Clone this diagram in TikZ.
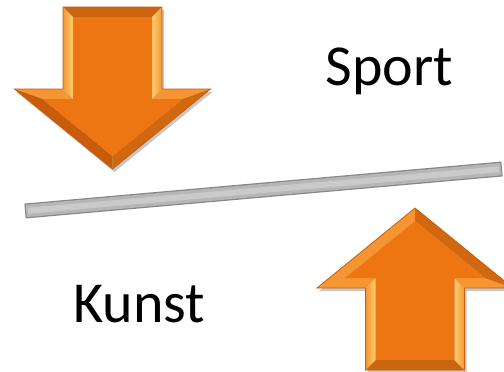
\documentclass[tikz,border=0pt]{standalone}
\usepackage{fontspec}
\setmainfont{Carlito}
\usepackage{xcolor}
\usetikzlibrary{calc}
\definecolor{arrowface}{RGB}{238,118,18}
\definecolor{arrowdark}{RGB}{200,92,10}
\definecolor{arrowlight}{RGB}{246,150,50}
\definecolor{arrowhigh}{RGB}{255,205,110}
\definecolor{bardark}{RGB}{135,135,135}
\definecolor{barmid}{RGB}{182,182,182}
\definecolor{barlight}{RGB}{202,202,202}
\tikzset{
    label text/.style={font=\fontsize{58bp}{62bp}\selectfont, anchor=base, inner sep=0pt},
    facet/.style={draw=none}
}
% beveled block arrow pointing down, top edge centred at the origin
% #1 shadow offset, #2 left diagonal facet, #3 right diagonal facet
\newcommand{\bevelarrow}[3]{%
  % shadow
  \fill[black, opacity=0.22, shift={(2,#1)}]
    (-49.5,0) -- (49.5,0) -- (49.5,82) -- (98,82) -- (0,162) -- (-98,82) -- (-49.5,82) -- cycle;
  \coordinate (A) at (-49.5,0);  \coordinate (B) at (49.5,0);
  \coordinate (C) at (49.5,82);  \coordinate (D) at (98,82);
  \coordinate (E) at (0,162);    \coordinate (F) at (-98,82);
  \coordinate (G) at (-49.5,82);
  \coordinate (a) at (-39.5,10); \coordinate (b) at (39.5,10);
  \coordinate (c) at (39.5,92);  \coordinate (d) at (70,92);
  \coordinate (e) at (0,149);    \coordinate (f) at (-70,92);
  \coordinate (g) at (-39.5,92);
  % facets
  \fill[facet, arrowface!85!black] (A) -- (B) -- (b) -- (a) -- cycle;
  \shade[facet, left color=arrowlight, right color=arrowhigh] (A) -- (a) -- (g) -- (G) -- cycle;
  \shade[facet, left color=arrowhigh, right color=arrowlight] (B) -- (C) -- (c) -- (b) -- cycle;
  \fill[facet, arrowlight] (F) -- (G) -- (g) -- (f) -- cycle;
  \fill[facet, arrowlight] (C) -- (D) -- (d) -- (c) -- cycle;
  \fill[facet, #2] (F) -- (f) -- (e) -- (E) -- cycle;
  \fill[facet, #3] (D) -- (E) -- (e) -- (d) -- cycle;
  \fill[facet, arrowface] (a) -- (b) -- (c) -- (d) -- (e) -- (f) -- (g) -- cycle;
  \draw[arrowdark, line width=0.8] (A) -- (B) -- (C) -- (D) -- (E) -- (F) -- (G) -- cycle;
}

\begin{document}
\begin{tikzpicture}[x=1bp, y=-1bp]
  \useasboundingbox (0,0) rectangle (504,371);
  \clip (0,0) rectangle (504,371);

  % Down arrow
  \begin{scope}[shift={(112.5,7)}]
    \bevelarrow{3}{arrowdark}{arrowface!88!black}
  \end{scope}

  % Up arrow
  \begin{scope}[shift={(415,370)}, yscale=-1]
    \bevelarrow{-3}{arrowlight}{arrowface!88!black}
  \end{scope}

  % Tilted bar
  \coordinate (barL) at (25,211);
  \coordinate (barR) at (502,169);
  \draw[bardark, line width=15] (barL) -- (barR);
  \draw[barmid, line width=12.5, shorten <=1.2, shorten >=1.2] (barL) -- (barR);
  \draw[barlight, line width=6, shorten <=3, shorten >=3] (barL) -- (barR);

  % Labels
  \node[label text] (sport) at (389.5,85) {Sport};
  \node[label text] (kunst) at (139.5,322) {Kunst};
\end{tikzpicture}
\end{document}
